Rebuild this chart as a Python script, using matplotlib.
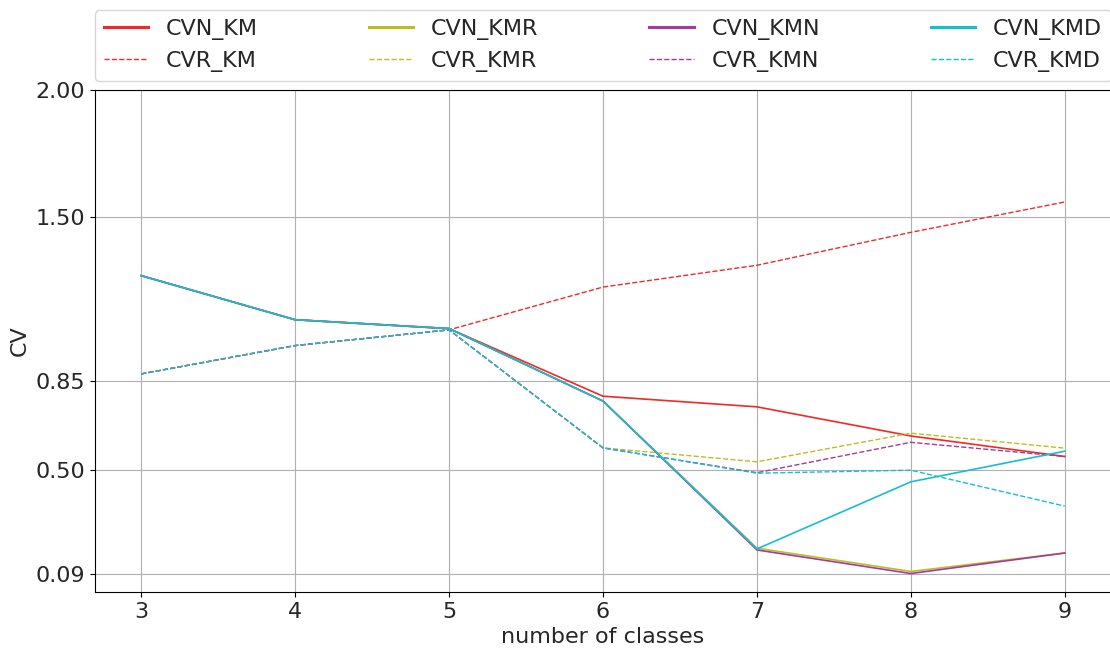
import numpy as np
import matplotlib.pyplot as plt

# number of classes
classes = [3, 4, 5, 6, 7, 8, 9]

# CV values per method (N = normal, R = ratio)
cvn_km = [1.267, 1.093, 1.058, 0.791, 0.749, 0.634, 0.553]
cvr_km = [0.879, 0.991, 1.053, 1.222, 1.308, 1.438, 1.558]
cvn_kmr = [1.267, 1.093, 1.058, 0.772, 0.191, 0.099, 0.172]
cvr_kmr = [0.879, 0.991, 1.053, 0.587, 0.532, 0.645, 0.586]
cvn_kmn = [1.267, 1.093, 1.058, 0.772, 0.184, 0.091, 0.172]
cvr_kmn = [0.879, 0.991, 1.053, 0.587, 0.489, 0.609, 0.553]
cvn_kmd = [1.267, 1.093, 1.058, 0.772, 0.188, 0.453, 0.574]
cvr_kmd = [0.879, 0.991, 1.053, 0.587, 0.487, 0.499, 0.357]

y_ticks = [0.09, 0.50, 0.85, 1.50, 2.00]

renk = {'KM': '#ee2a2a', 'KMR': '#bcbd22', 'KMN': '#a03c9e', 'KMD': '#17becf'}
yazi = '#262626'

fig = plt.figure(figsize=(11.1, 6.49), dpi=100)
ax = fig.add_axes([95 / 1110, 57 / 649, 1016 / 1110, 502 / 649])

seriler = [
    ('KM', cvn_km, cvr_km),
    ('KMR', cvn_kmr, cvr_kmr),
    ('KMN', cvn_kmn, cvr_kmn),
    ('KMD', cvn_kmd, cvr_kmd),
]
for ad, cvn, cvr in seriler:
    ax.plot(classes, cvn, color=renk[ad], lw=1.2, label='CVN_' + ad)
    ax.plot(classes, cvr, color=renk[ad], lw=1.0, ls='--', label='CVR_' + ad)

ax.set_xlim(2.7, 9.3)
ax.set_ylim(0.018, 2.0)
ax.set_xticks(classes)
ax.set_yticks(y_ticks)
ax.set_yticklabels(['%.2f' % t for t in y_ticks])
ax.tick_params(labelsize=16, labelcolor=yazi)
ax.spines['right'].set_visible(False)
ax.grid(True, color='#b0b0b0', lw=0.8)
ax.set_xlabel('number of classes', fontsize=16, color=yazi)
ax.set_ylabel('CV', fontsize=16, color=yazi)

leg = ax.legend(ncol=4, fontsize=16, loc='lower left', mode='expand',
                bbox_to_anchor=(0, 1.018, 1, 0.147), borderaxespad=0)
for t in leg.get_texts():
    t.set_color(yazi)
for h in leg.get_lines():
    h.set_linewidth(2.2 if h.get_linestyle() == '-' else 1.0)

fig.savefig('out.png', dpi=100)
